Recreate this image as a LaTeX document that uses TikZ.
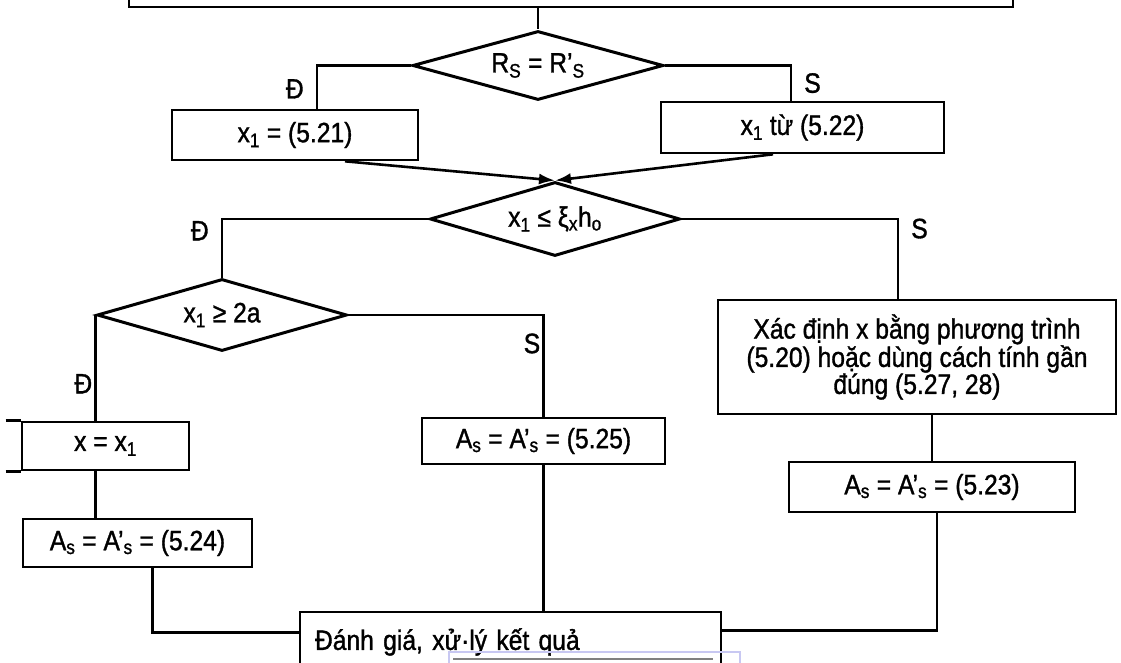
\documentclass[tikz,border=0pt]{standalone}
\usepackage{fontspec}
\setmainfont{Liberation Sans}[FakeStretch=0.88, FakeBold=1.2]
\usetikzlibrary{shapes.geometric,arrows.meta}
\definecolor{selblue}{RGB}{200,200,242}
\tikzset{
  proc/.style={draw, line width=2.6pt, inner sep=0pt},
  decision/.style={draw, diamond, aspect=3.5, line width=3pt, inner sep=0pt,
    minimum width=250, minimum height=72},
  link/.style={line width=2.6pt},
  arr/.style={link, -{Latex[length=16pt,width=11pt]}},
  lab/.style={inner xsep=12pt},
  labtight/.style={inner xsep=2pt}
}
\begin{document}
\begin{tikzpicture}[x=1pt,y=-1pt,font=\fontsize{28}{27}\selectfont]
    \useasboundingbox (0,0) rectangle (1121,663);
    \clip (0,0) rectangle (1121,663);

    \node[proc, minimum width=884, minimum height=67] (top) at (571,-26.5) {};
    \node[decision, minimum width=251, minimum height=69] (d1) at (538,65.5)
      {R\textsubscript{S} = R'\textsubscript{S}};
    \node[proc, minimum width=246, minimum height=50] (b521) at (295,135)
      {x\textsubscript{1} = (5.21)};
    \node[proc, minimum width=283, minimum height=51] (b522) at (802.5,127.5)
      {x\textsubscript{1} từ (5.22)};
    \node[decision, minimum height=74] (d2) at (555,219)
      {x\textsubscript{1} ≤ ξ\textsubscript{x}h\textsubscript{o}};
    \node[decision] (d3) at (222,315) {x\textsubscript{1} ≥ 2a};
    \node[proc, minimum width=398, minimum height=114, align=center] (xac) at (917,357)
      {Xác định x bằng phương trình\\(5.20) hoặc dùng cách tính gần\\đúng (5.27, 28)};
    \node[proc, minimum width=286, minimum height=50] (b523) at (932,487)
      {A\textsubscript{s} = A'\textsubscript{s} = (5.23)};
    \node[proc, minimum width=243, minimum height=46] (b525) at (543.5,441)
      {A\textsubscript{s} = A'\textsubscript{s} = (5.25)};
    \node[proc, minimum width=167, minimum height=48] (bx) at (105.5,446)
      {x = x\textsubscript{1}};
    \node[proc, minimum width=229, minimum height=48] (b524) at (137.5,543)
      {A\textsubscript{s} = A'\textsubscript{s} = (5.24)};
    \node[proc, minimum width=421, minimum height=60, text width=391, align=left,
      inner xsep=15pt] (final) at (510.5,642) {Đánh giá, xử·lý kết quả};

    % first test
    \draw[link] (d1.north |- top.south) -- (d1.north);
    \draw[link] (d1.west) -| node[lab, pos=0.77, left] {Đ} ([xshift=22pt]b521.north);
    \draw[link] (d1.east) -| node[lab, pos=0.75, right] {S} ([xshift=-11.5pt]b522.north);
    \draw[arr] ([xshift=50pt]b521.south) -- (d2.north);
    \draw[arr] ([xshift=-29.5pt]b522.south) -- (d2.north);

    % second test
    \draw[link] (d2.west) -| node[lab, pos=0.6, left] {Đ} (d3.north);
    \draw[link] (d2.east) -| node[lab, pos=0.56, right] {S} ([xshift=-19pt]xac.north);
    \draw[link] (b523.north |- xac.south) -- (b523.north);

    % third test
    \draw[link] (d3.west) -- node[labtight, pos=0.65, left] {Đ} (d3.west |- bx.north);
    \draw[link] (d3.east) -| node[labtight, pos=0.64, left] {S} (b525.north);
    \draw[link] ([xshift=-15pt]bx.north west) -- (bx.north west);
    \draw[link] ([xshift=-15pt]bx.south west) -- (bx.south west);
    \draw[link] (d3.west |- bx.south) -- (d3.west |- b524.north);

    % into the last box
    \coordinate (finL) at ([yshift=-22pt]final.north west);
    \coordinate (finR) at ([yshift=-20pt]final.north east);
    \draw[link] ([xshift=15pt]b524.south) |- (finL);
    \draw[link] (b525.south) -- (b525.south |- final.north);
    \draw[link] ([xshift=5pt]b523.south) |- (finR);

    \draw[line width=2.5pt, selblue] (449,652) rectangle (740,680);
    \draw[line width=1.2pt, gray] (453,659) -- (713,659);
  \end{tikzpicture}
\end{document}
